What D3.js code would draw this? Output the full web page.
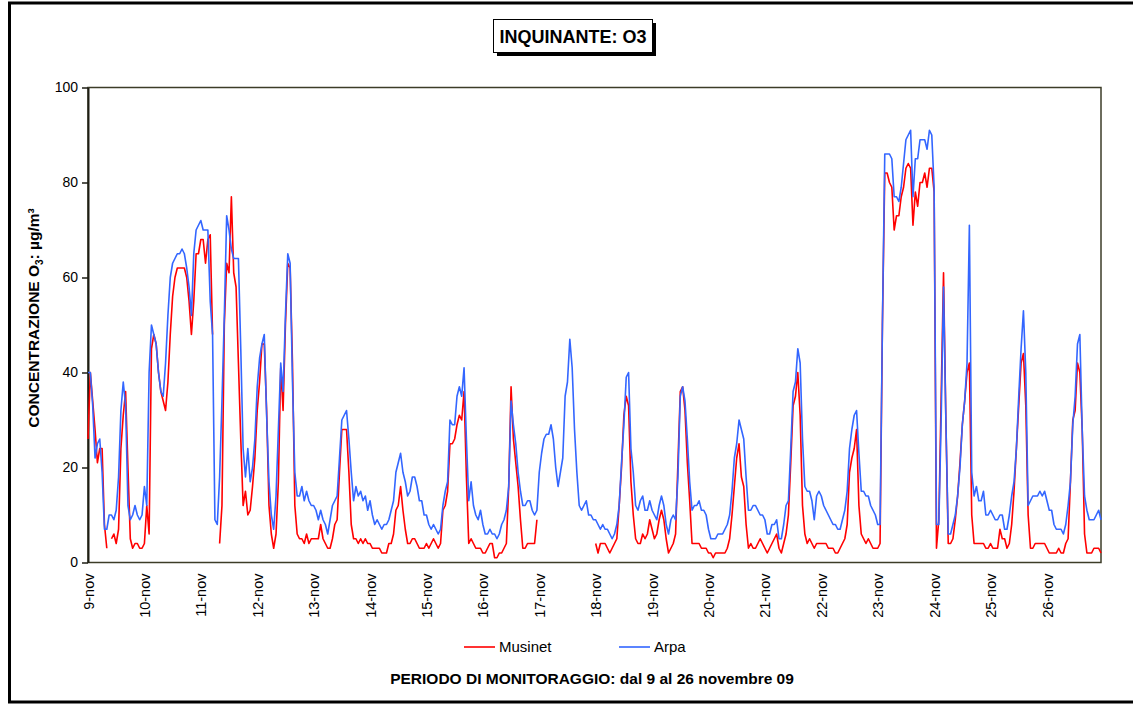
<!DOCTYPE html>
<html>
<head>
<meta charset="utf-8">
<script src="https://cdn.jsdelivr.net/npm/d3@7"></script>
<style>
  html, body { margin: 0; padding: 0; background: #fff; }
  svg { display: block; font-family: "Liberation Sans", Arial, sans-serif; }
</style>
</head>
<body>
<svg id="chart" width="1133" height="704"></svg>
<script>
// Category labels, one every 24 hourly readings
var days = ["9-nov","10-nov","11-nov","12-nov","13-nov","14-nov","15-nov","16-nov","17-nov",
            "18-nov","19-nov","20-nov","21-nov","22-nov","23-nov","24-nov","25-nov","26-nov"];

// Hourly O3 (ug/m3), one row per day, null = missing reading
var musinet = [
  26,40,34,28,21,24,24,8,3,null,5,6,4,7,24,31,36,20,5,3,4,4,3,3,
  4,12,6,45,48,46,40,36,34,32,38,48,56,60,62,62,62,62,60,55,48,55,65,65,
  68,68,63,68,69,48,null,null,4,12,50,63,61,77,61,58,42,26,12,15,10,11,16,22,
  32,38,46,46,32,12,6,3,6,17,41,32,50,63,62,42,12,6,5,5,4,6,4,5,
  5,5,5,8,5,4,3,3,5,8,9,19,28,28,28,19,8,5,5,4,5,4,5,4,
  4,3,3,3,3,2,2,2,4,4,6,11,12,16,11,7,4,4,5,5,4,3,3,3,
  4,3,4,5,4,3,4,11,12,15,25,25,26,29,31,30,36,18,4,5,4,3,3,3,
  2,2,3,4,4,1,1,2,2,3,4,16,37,26,21,16,9,3,3,4,4,4,4,9,
  null,null,null,null,null,null,null,null,null,null,null,null,null,null,null,null,null,null,null,null,null,null,null,null,
  4,2,4,4,4,3,2,3,4,5,12,20,31,35,33,17,10,5,4,4,6,5,6,9,
  7,5,6,9,11,9,5,2,3,4,6,21,36,37,32,21,13,4,4,4,4,3,3,3,
  2,2,1,2,2,2,2,2,3,5,10,16,22,25,18,16,8,3,4,3,3,4,5,4,
  3,2,3,4,5,6,3,2,4,6,10,21,33,35,40,31,12,6,4,5,4,3,4,4,
  4,4,4,3,3,3,2,2,3,4,5,8,19,22,24,28,12,6,5,4,5,4,3,3,
  3,4,50,82,82,80,79,70,73,73,77,79,83,84,83,71,78,75,80,80,82,79,83,83,
  78,3,9,35,61,30,4,4,5,9,14,21,29,34,40,42,10,4,4,4,4,4,3,3,
  4,3,3,3,7,5,5,3,4,8,15,24,33,42,44,33,10,3,3,4,4,4,4,4,
  3,2,2,2,2,3,2,2,4,5,17,30,32,42,40,28,6,2,2,2,3,3,3,2
];

var arpa = [
  40,40,33,22,25,26,19,7,7,10,10,9,11,18,32,38,33,12,9,10,12,10,9,10,
  16,12,40,50,48,46,40,36,35,42,52,60,63,64,65,65,66,65,62,58,52,65,70,71,
  72,70,70,70,55,48,9,8,18,34,52,73,70,66,64,64,64,45,24,18,24,17,20,26,
  37,43,46,48,31,17,10,7,14,28,42,36,52,65,63,38,19,14,14,16,13,15,13,12,
  12,11,9,11,9,8,6,9,12,13,14,22,30,31,32,26,19,13,16,14,15,13,14,11,
  13,10,8,9,8,7,8,8,9,11,13,19,21,23,19,17,14,15,18,18,16,13,13,10,
  10,8,7,8,7,6,7,12,15,17,30,29,29,35,37,35,41,26,13,17,12,10,9,11,
  8,6,6,7,6,6,5,6,8,9,11,16,34,29,25,19,15,12,12,13,13,11,10,11,
  19,23,26,27,27,29,26,20,16,19,22,35,38,47,41,28,19,12,11,12,13,10,10,9,
  9,8,7,8,7,7,6,5,6,8,12,21,29,39,40,24,19,12,11,13,14,11,11,13,
  11,10,9,12,14,12,8,6,9,10,9,18,35,37,34,26,17,11,12,12,13,11,11,10,
  7,5,5,5,6,6,6,7,8,10,15,22,25,30,28,26,18,11,11,12,12,11,10,10,
  9,6,6,8,8,9,5,5,8,12,13,24,36,38,45,42,26,16,15,15,13,9,14,15,
  14,12,11,10,9,8,8,7,7,9,11,15,24,28,31,32,23,15,15,14,14,12,11,10,
  8,8,50,86,86,86,85,77,77,76,79,84,89,90,91,77,85,85,89,89,89,87,91,90,
  79,8,8,30,58,30,6,6,8,10,14,20,29,34,42,71,19,14,16,13,13,15,10,10,
  11,10,9,9,10,10,7,7,10,14,17,24,35,45,53,40,12,13,14,14,14,15,14,15,
  13,11,11,8,7,7,7,6,8,12,17,29,35,46,48,28,14,11,9,9,9,10,11,9
];

var yTicks = [0, 20, 40, 60, 80, 100];

var W = 1133, H = 704;
var plotL = 88, plotR = 1101, plotT = 87.5, plotB = 562.5;
var font = "'Liberation Sans', Arial, sans-serif";

var svg = d3.select("#chart");
svg.append("rect").attr("width", W).attr("height", H).attr("fill", "#fff");

// outer frame (runs off the right edge like the original)
svg.append("rect")
    .attr("x", 9.5).attr("y", 3)
    .attr("width", 1140).attr("height", 699)
    .attr("fill", "none").attr("stroke", "#000").attr("stroke-width", 3);

var x = d3.scaleLinear().domain([0, arpa.length - 1]).range([plotL, plotR]);
var y = d3.scaleLinear().domain([0, 100]).range([plotB, plotT]);

// plot area border
svg.append("rect")
    .attr("x", plotL).attr("y", plotT)
    .attr("width", plotR - plotL).attr("height", plotB - plotT)
    .attr("fill", "none").attr("stroke", "#3c3c28").attr("stroke-width", 1.5);

// y axis
var gy = svg.append("g")
    .attr("transform", "translate(" + plotL + ",0)")
    .call(d3.axisLeft(y).tickValues(yTicks).tickSize(6).tickSizeOuter(0).tickPadding(4));
gy.attr("font-family", font).attr("font-size", 14);
gy.select(".domain").attr("stroke", "#1e1e14").attr("stroke-width", 2);
gy.selectAll(".tick line").attr("stroke", "#1e1e14").attr("stroke-width", 1.5);
gy.selectAll(".tick text").attr("fill", "#000");

// x axis: rotated day labels only
var gx = svg.append("g")
    .attr("transform", "translate(0," + plotB + ")")
    .call(d3.axisBottom(x)
        .tickValues(days.map(function(d, i) { return i * 24; }))
        .tickFormat(function(v) { return days[v / 24]; })
        .tickSize(0));
gx.attr("font-family", font).attr("font-size", 14.5);
gx.select(".domain").remove();
gx.selectAll(".tick text")
    .attr("fill", "#000")
    .attr("transform", "rotate(-90)")
    .attr("x", -11).attr("y", 0)
    .attr("dy", "0.35em")
    .attr("text-anchor", "end");

// series
var line = d3.line()
    .defined(function(d) { return d != null; })
    .x(function(d, i) { return x(i); })
    .y(function(d) { return y(d); });

svg.append("path").datum(musinet)
    .attr("d", line)
    .attr("fill", "none").attr("stroke", "#ff0000")
    .attr("stroke-width", 1.6).attr("stroke-linejoin", "round");

svg.append("path").datum(arpa)
    .attr("d", line)
    .attr("fill", "none").attr("stroke", "#3366ff")
    .attr("stroke-width", 1.6).attr("stroke-linejoin", "round");

// title box with shadow
svg.append("rect").attr("x", 497).attr("y", 23).attr("width", 159).attr("height", 33).attr("fill", "#000");
svg.append("rect").attr("x", 493.5).attr("y", 19.5).attr("width", 159).attr("height", 33)
    .attr("fill", "#fff").attr("stroke", "#000").attr("stroke-width", 1);
svg.append("text")
    .attr("x", 573).attr("y", 42.5)
    .attr("text-anchor", "middle")
    .attr("font-family", font).attr("font-size", 18).attr("font-weight", "bold")
    .text("INQUINANTE: O3");

// y axis title
var yt = svg.append("text")
    .attr("transform", "translate(39,318) rotate(-90)")
    .attr("text-anchor", "middle")
    .attr("font-family", font).attr("font-size", 15.5).attr("font-weight", "bold");
yt.append("tspan").text("CONCENTRAZIONE O");
yt.append("tspan").attr("font-size", 10).attr("dy", 4).text("3");
yt.append("tspan").attr("dy", -4).text(": \u00b5g/m\u00b3");

// legend
var legend = [
  {name: "Musinet", color: "#ff0000", x: 464},
  {name: "Arpa", color: "#3366ff", x: 619}
];
var lg = svg.append("g").selectAll("g").data(legend).join("g")
    .attr("transform", function(d) { return "translate(" + d.x + ",647)"; });
lg.append("line").attr("x1", 0).attr("x2", 31).attr("y1", 0).attr("y2", 0)
    .attr("stroke", function(d) { return d.color; }).attr("stroke-width", 1.6);
lg.append("text").attr("x", 35).attr("y", 0).attr("dy", "0.35em")
    .attr("font-family", font).attr("font-size", 15)
    .text(function(d) { return d.name; });

// bottom caption
svg.append("text")
    .attr("x", 592).attr("y", 684)
    .attr("text-anchor", "middle")
    .attr("font-family", font).attr("font-size", 15.5).attr("font-weight", "bold")
    .text("PERIODO DI MONITORAGGIO: dal 9 al 26 novembre 09");
</script>
</body>
</html>
